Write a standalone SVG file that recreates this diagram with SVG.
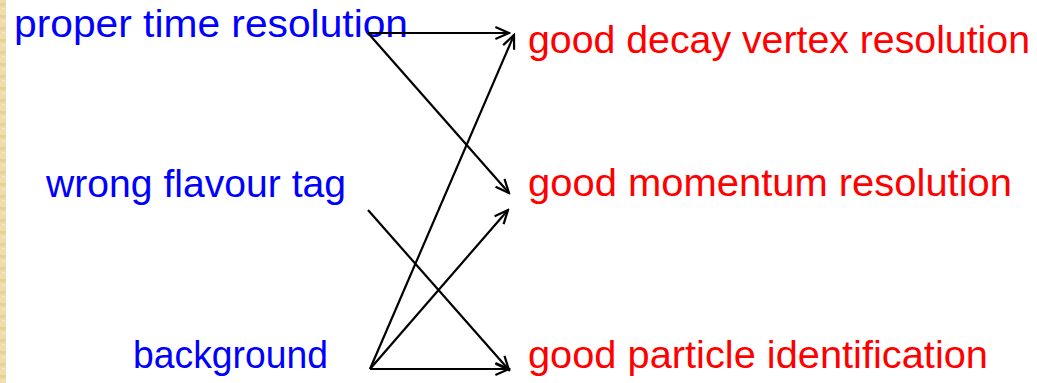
<svg xmlns="http://www.w3.org/2000/svg" width="1037" height="383" viewBox="0 0 1037 383">
<style>
.b{fill:#0000ff;font-family:"Liberation Sans",Arial,sans-serif;font-size:38px}
.r{fill:#ff0000;font-family:"Liberation Sans",Arial,sans-serif;font-size:38px}
.c line{stroke:#000;stroke-width:2.2;fill:none;marker-end:url(#ah)}
</style>
<defs>
<marker id="ah" viewBox="0 0 20 20" refX="18" refY="10" markerWidth="17" markerHeight="17" markerUnits="userSpaceOnUse" orient="auto">
<path d="M2,3 L18,10 L2,17" fill="none" stroke="#000" stroke-width="2.6"/>
</marker>
<pattern id="tex" width="6" height="12" patternUnits="userSpaceOnUse">
<rect width="6" height="12" fill="#efdcab"/>
<rect x="0" y="3" width="6" height="3" fill="#e8d29c"/>
<rect x="2" y="8" width="3" height="2" fill="#f3e4bd"/>
</pattern>
</defs>
<rect width="1037" height="383" fill="#fff"/>
<rect x="0" y="0" width="6" height="383" fill="url(#tex)"/>
<g id="n-proper"><text class="b" x="14" y="37" textLength="394" lengthAdjust="spacingAndGlyphs">proper time resolution</text></g>
<g id="n-wrong"><text class="b" x="46" y="197" textLength="300" lengthAdjust="spacingAndGlyphs">wrong flavour tag</text></g>
<g id="n-background"><text class="b" x="133" y="368" textLength="195" lengthAdjust="spacingAndGlyphs">background</text></g>
<g id="n-vertex"><text class="r" x="528" y="53" textLength="502" lengthAdjust="spacingAndGlyphs">good decay vertex resolution</text></g>
<g id="n-momentum"><text class="r" x="528" y="196" textLength="484" lengthAdjust="spacingAndGlyphs">good momentum resolution</text></g>
<g id="n-pid"><text class="r" x="528" y="368" textLength="460" lengthAdjust="spacingAndGlyphs">good particle identification</text></g>
<g id="connectors" class="c">
<line x1="368" y1="33" x2="509" y2="33"/>
<line x1="368" y1="33" x2="509" y2="193"/>
<line x1="368" y1="210" x2="509" y2="370"/>
<line x1="370" y1="369" x2="509" y2="369"/>
<line x1="370" y1="369" x2="508" y2="210"/>
<line x1="370" y1="369" x2="514" y2="35"/>
</g>
</svg>
